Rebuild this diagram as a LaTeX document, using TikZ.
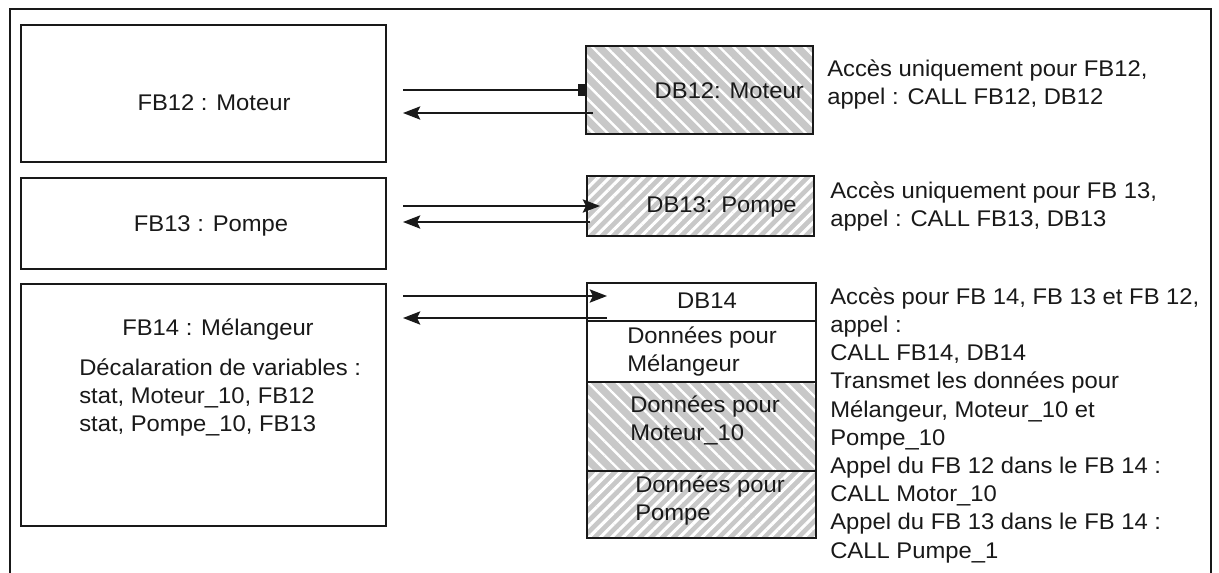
\documentclass[tikz,border=0pt]{standalone}
\usepackage{fontspec}
\setmainfont{Liberation Sans}[FakeStretch=1.05]
\usetikzlibrary{arrows.meta,patterns.meta,fit}
\definecolor{ink}{RGB}{25,25,25}
\definecolor{hatchgray}{RGB}{200,200,200}
\newcommand{\fl}{\rule{0pt}{13.5pt}}
\begin{document}
\begin{tikzpicture}[x=0.75pt,y=-0.75pt,
  box/.style={draw=ink, line width=1.4pt, inner sep=0pt},
  txt/.style={font=\fontsize{17}{21.15}\selectfont, inner sep=0pt, text=ink},
  multi/.style={txt, align=left, anchor=north west},
  conn/.style={draw=ink, line width=1.1pt},
  arr/.style={-{Stealth[length=13pt,width=10pt,inset=2.5pt]}},
  hatchback/.style={preaction={fill=hatchgray},
    preaction={pattern={Lines[angle=-45,distance=7.5pt,line width=1.8pt]},pattern color=white}},
  hatchfwd/.style={preaction={fill=hatchgray},
    preaction={pattern={Lines[angle=45,distance=6pt,line width=2.3pt]},pattern color=white}}
]
\useasboundingbox (0,0) rectangle (1219,572);
\fill[white] (0,0) rectangle (1219,572);
% outer frame (open at the bottom)
\draw[ink, line width=1.2pt] (10,575) -- (10,9) -- (1211,9) -- (1211,575);

% FB boxes
\node[box, fit={(21,25)(386,162)}] (fb12) {};
\node[box, fit={(21,178)(386,269)}] (fb13) {};
\node[box, fit={(21,284)(386,526)}] (fb14) {};
\node[txt, anchor=base] (fb12t) at (214,110) {FB12 : Moteur};
\node[txt, anchor=base] (fb13t) at (211,231) {FB13 : Pompe};
\node[txt, anchor=base] (fb14t) at (218,335) {FB14 : Mélangeur};
\node[multi] (fb14d) at (79,357) {\fl Décalaration de variables :\\stat, Moteur\_10, FB12\\stat, Pompe\_10, FB13};

% DB boxes
\node[box, hatchback, fit={(586,46)(813,134)}] (db12) {};
\node[txt, anchor=base east] (db12t) at (804,98) {DB12: Moteur};
\node[box, hatchfwd, fit={(587,176)(814,236)}] (db13) {};
\node[txt, anchor=base east] (db13t) at (797,212) {DB13: Pompe};

\node[box, fit={(587,283)(816,321)}] (db14) {};
\node[box, fit={(587,321)(816,382)}] (db14m) {};
\node[box, hatchback, fit={(587,382)(816,471)}] (db14mo) {};
\node[box, hatchfwd, fit={(587,471)(816,538)}] (db14p) {};
\node[txt, anchor=base] (db14t) at (707,308) {DB14};
\node[multi] (db14mt) at (627,325) {\fl Données pour\\Mélangeur};
\node[multi] (db14mot) at (630,394) {\fl Données pour\\Moteur\_10};
\node[multi] (db14pt) at (635,474) {\fl Données pour\\Pompe};

% right-hand notes
\node[multi] (n12) at (827,58) {\fl Accès uniquement pour FB12,\\appel : CALL FB12, DB12};
\node[multi] (n13) at (830,180) {\fl Accès uniquement pour FB 13,\\appel : CALL FB13, DB13};
\node[multi] (n14) at (830,286) {\fl Accès pour FB 14, FB 13 et FB 12,\\appel :\\CALL FB14, DB14\\Transmet les données pour\\Mélangeur, Moteur\_10 et\\Pompe\_10\\Appel du FB 12 dans le FB 14 :\\CALL Motor\_10\\Appel du FB 13 dans le FB 14 :\\CALL Pumpe\_1};

% connectors
\coordinate (a12) at (403,90);
\coordinate (b12) at (403,113);
\coordinate (c12) at (593,113);
\draw[conn, -{Square[length=5pt,width=9pt]}] (a12) -- (db12.west |- a12);
\draw[conn, arr] (c12) -- (b12);

\coordinate (a13) at (403,206);
\coordinate (e13) at (600,206);
\coordinate (b13) at (403,222);
\coordinate (c13) at (590,222);
\draw[conn, arr] (a13) -- (e13);
\draw[conn, arr] (c13) -- (b13);

\coordinate (a14) at (403,296);
\coordinate (e14) at (607,296);
\coordinate (b14) at (403,318);
\coordinate (c14) at (607,318);
\draw[conn, arr] (a14) -- (e14);
\draw[conn, arr] (c14) -- (b14);
\end{tikzpicture}
\end{document}
